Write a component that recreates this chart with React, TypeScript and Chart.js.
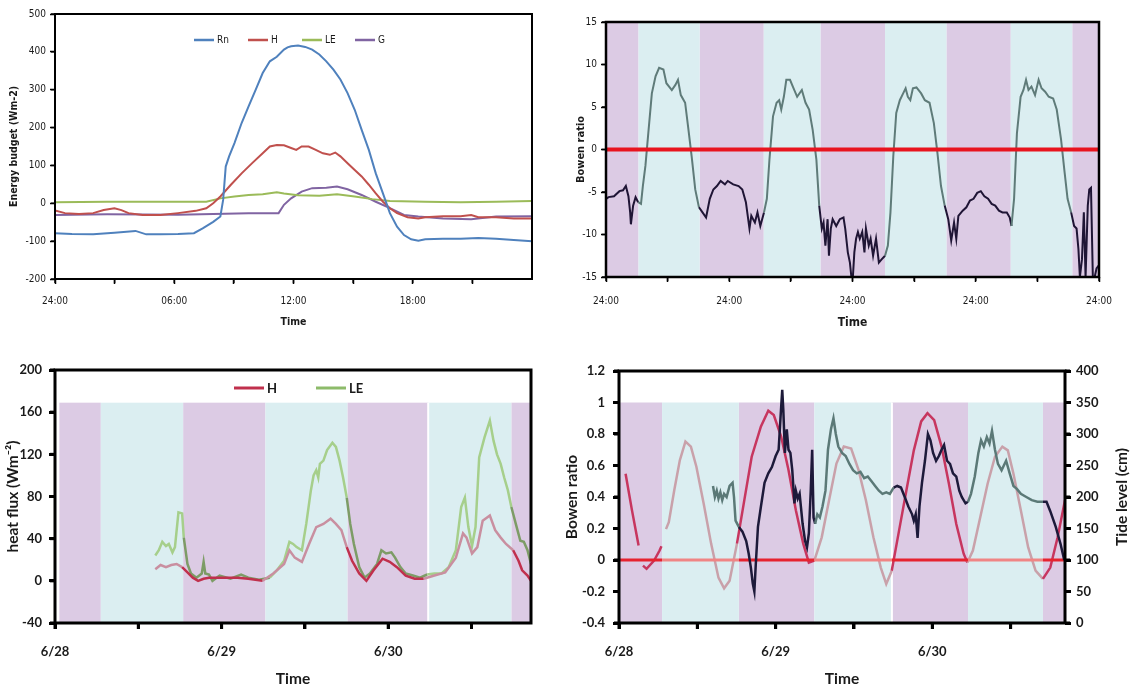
import React, { useEffect, useRef } from 'react';
import { Chart, registerables } from 'chart.js';

Chart.register(...registerables);

// ================= Panel 1: energy budget (x in hours) =================
const p1TickValues = [0, 3, 6, 9, 12, 15, 18, 21];
const p1TickLabels = ['24:00', '', '06:00', '', '12:00', '', '18:00', ''];
const p1YValues = [-200, -100, 0, 100, 200, 300, 400, 500];
const p1Rn = [[0,-79],[0.85,-81],[1.92,-82],[2.99,-78],[4.05,-73],[4.59,-82],[5.3,-82],[6.19,-81],[6.99,-79],[7.43,-66],[7.96,-49],[8.32,-35],[8.46,9],[8.59,97],[8.76,124],[9.03,159],[9.39,212],[9.74,256],[10.1,300],[10.45,344],[10.81,375],[11.16,387],[11.52,406],[11.7,412],[11.88,415],[12.23,417],[12.59,413],[12.94,406],[13.3,393],[13.65,375],[14.01,353],[14.36,327],[14.72,291],[15.08,247],[15.43,194],[15.79,141],[16.14,79],[16.5,26],[16.85,-26],[17.21,-62],[17.56,-84],[17.92,-95],[18.28,-99],[18.63,-95],[19.52,-94],[20.41,-94],[21.3,-92],[22.19,-94],[23.08,-97],[24,-100]];
const p1H = [[0,-19],[0.5,-26],[1.21,-28],[1.92,-26],[2.45,-18],[2.99,-13],[3.34,-18],[3.7,-26],[4.41,-31],[5.3,-31],[6.19,-26],[7.08,-20],[7.61,-13],[7.96,0],[8.32,18],[8.85,49],[9.39,79],[9.92,106],[10.45,132],[10.81,150],[11.16,154],[11.52,153],[11.88,146],[12.14,141],[12.41,150],[12.76,150],[13.12,141],[13.48,132],[13.83,128],[14.1,134],[14.36,124],[14.72,106],[15.08,88],[15.43,71],[15.79,49],[16.14,26],[16.5,4],[16.85,-13],[17.21,-26],[17.74,-37],[18.28,-40],[18.63,-37],[19.52,-34],[20.41,-34],[20.94,-31],[21.3,-37],[22.19,-37],[23.08,-40],[24,-40]];
const p1LE = [[0,3],[2.63,4],[6.19,4],[7.61,4],[8.32,13],[9.03,18],[9.74,22],[10.45,24],[11.16,29],[11.52,26],[12.23,21],[13.3,20],[14.19,24],[15.08,18],[15.96,11],[16.85,6],[18.63,4],[20.41,3],[22.19,4],[24,6]];
const p1G = [[0,-31],[2.63,-29],[6.19,-30],[7.96,-28],[9.74,-26],[11.25,-26],[11.52,-4],[11.88,13],[12.41,31],[12.94,40],[13.65,41],[14.19,44],[14.72,37],[15.43,22],[16.14,4],[16.85,-13],[17.56,-31],[18.28,-35],[19.52,-40],[20.94,-42],[22.19,-35],[24,-34]];

// ================= Panel 2: Bowen ratio over 4 days (x in days) =================
const p2TickValues = [0, 0.5, 1, 1.5, 2, 2.5, 3, 3.5, 4];
const p2TickLabels = ['24:00', '', '24:00', '', '24:00', '', '24:00', '', '24:00'];
const p2YValues = [-15, -10, -5, 0, 5, 10, 15];
const p2Night = [[0,0.264],[0.76,1.28],[1.74,2.264],[2.762,3.284],[3.783,4]];
const p2Day = [[0.264,0.76],[1.28,1.74],[2.264,2.762],[3.284,3.783]];
const p2Zero = [[0,0],[4,0]];
const p2Bowen = [[0,-5.8],[0.021,-5.6],[0.065,-5.5],[0.109,-4.9],[0.138,-4.8],[0.161,-4.3],[0.182,-5.5],[0.196,-7.4],[0.202,-8.8],[0.22,-6.6],[0.24,-5.6],[0.261,-6.2],[0.284,-6.4],[0.299,-4.3],[0.32,-1.9],[0.343,1.9],[0.372,6.6],[0.402,8.6],[0.431,9.6],[0.466,9.4],[0.49,7.8],[0.534,7.0],[0.563,7.6],[0.584,8.2],[0.607,6.4],[0.642,5.5],[0.666,2.7],[0.695,-0.8],[0.724,-4.7],[0.754,-6.8],[0.783,-7.4],[0.812,-8.0],[0.842,-5.8],[0.871,-4.7],[0.9,-4.3],[0.93,-3.7],[0.965,-4.1],[0.988,-3.7],[1.032,-4.1],[1.076,-4.3],[1.106,-4.7],[1.135,-6.2],[1.164,-9.3],[1.179,-7.8],[1.208,-8.6],[1.229,-7.4],[1.252,-9.0],[1.282,-7.4],[1.305,-5.8],[1.326,-1.2],[1.355,3.9],[1.384,5.5],[1.405,5.8],[1.422,4.7],[1.443,6.2],[1.463,8.2],[1.493,8.2],[1.516,7.4],[1.551,6.2],[1.589,7.0],[1.619,5.5],[1.648,4.7],[1.677,2.3],[1.707,-1.2],[1.73,-6.6],[1.751,-9.3],[1.765,-8.6],[1.78,-11.3],[1.798,-8.2],[1.809,-12.5],[1.824,-9.3],[1.839,-8.2],[1.868,-9.0],[1.897,-8.2],[1.927,-8.0],[1.941,-9.3],[1.962,-12.1],[1.979,-13.3],[1.991,-15],[2.003,-15],[2.015,-12.1],[2.029,-10.5],[2.044,-9.7],[2.059,-10.5],[2.079,-9.7],[2.097,-12.1],[2.109,-9.3],[2.132,-11.3],[2.147,-10.5],[2.167,-12.5],[2.191,-10.5],[2.214,-13.3],[2.238,-12.9],[2.264,-12.5],[2.287,-11.3],[2.308,-7.4],[2.331,-0.8],[2.355,4.3],[2.384,5.8],[2.411,6.6],[2.431,7.2],[2.449,6.2],[2.469,5.8],[2.49,7.2],[2.519,7.3],[2.557,6.6],[2.587,5.8],[2.625,5.5],[2.66,3.1],[2.689,-0.4],[2.718,-4.3],[2.748,-6.6],[2.777,-8.2],[2.801,-10.7],[2.824,-8.6],[2.842,-10.5],[2.859,-7.8],[2.894,-7.2],[2.924,-6.8],[2.953,-6.0],[2.982,-5.8],[3.012,-5.1],[3.041,-4.9],[3.07,-5.5],[3.1,-5.8],[3.129,-6.4],[3.158,-6.6],[3.188,-7.2],[3.217,-7.4],[3.252,-7.4],[3.276,-8.0],[3.29,-9.0],[3.311,-5.8],[3.334,1.9],[3.364,6.2],[3.387,7.0],[3.408,8.2],[3.428,7.0],[3.452,7.4],[3.481,6.4],[3.51,8.2],[3.534,7.2],[3.563,6.8],[3.592,6.2],[3.628,6.0],[3.657,4.7],[3.692,1.2],[3.721,-2.7],[3.745,-5.8],[3.774,-7.4],[3.798,-9.0],[3.818,-9.3],[3.833,-11.7],[3.845,-15],[3.862,-12.9],[3.877,-7.4],[3.891,-15],[3.909,-6.6],[3.921,-4.7],[3.935,-4.5],[3.95,-15],[3.965,-15],[3.98,-14.0],[4.0,-13.6]];

// ================= Panel 3: heat flux (x in days from 6/28) =================
const p3TickValues = [0, 0.5, 1, 1.5, 2, 2.5];
const p3TickLabels = ['6/28', '', '6/29', '', '6/30', ''];
const p3YValues = [-40, 0, 40, 80, 120, 160, 200];
const p3XMax = 2.857;
const p3BandTop = 169;
const p3Night = [[0.026,0.275],[0.769,1.263],[1.755,2.24],[2.739,2.857]];
const p3Day = [[0.275,0.769],[1.263,1.755],[2.24,2.739]];
const p3Separators = [2.24];
const p3LE = [[0.602,24],[0.623,29],[0.644,37],[0.666,33],[0.683,35],[0.705,27],[0.72,32],[0.741,65],[0.763,64],[0.773,41],[0.795,16],[0.816,7],[0.849,3],[0.881,7],[0.892,18],[0.902,7],[0.924,6],[0.945,0],[0.988,5],[1.053,2],[1.117,6],[1.16,3],[1.224,1],[1.289,3],[1.332,10],[1.375,19],[1.407,37],[1.429,35],[1.45,32],[1.482,29],[1.508,54],[1.536,86],[1.552,100],[1.568,105],[1.58,98],[1.59,111],[1.611,114],[1.633,124],[1.665,131],[1.686,127],[1.708,114],[1.729,98],[1.751,79],[1.772,54],[1.794,35],[1.826,13],[1.858,3],[1.89,7],[1.933,16],[1.959,29],[1.987,26],[2.019,27],[2.041,22],[2.073,13],[2.105,7],[2.148,5],[2.191,3],[2.234,6],[2.277,7],[2.32,7],[2.363,13],[2.406,29],[2.438,70],[2.46,79],[2.481,51],[2.503,33],[2.524,51],[2.546,117],[2.578,136],[2.61,152],[2.632,133],[2.653,120],[2.675,111],[2.696,98],[2.718,86],[2.739,70],[2.771,51],[2.793,38],[2.814,37],[2.836,29],[2.857,16]];
const p3H = [[0.602,11],[0.634,15],[0.666,13],[0.698,15],[0.73,16],[0.763,13],[0.795,8],[0.827,3],[0.859,0],[0.892,2],[0.924,3],[0.967,3],[1.031,3],[1.096,3],[1.16,2],[1.246,0],[1.31,7],[1.375,16],[1.407,29],[1.439,22],[1.482,18],[1.525,35],[1.568,51],[1.611,54],[1.654,59],[1.686,54],[1.719,48],[1.751,32],[1.783,19],[1.826,7],[1.869,0],[1.912,10],[1.966,21],[2.009,18],[2.052,13],[2.105,5],[2.159,2],[2.213,2],[2.277,5],[2.342,8],[2.406,22],[2.449,45],[2.47,41],[2.503,26],[2.535,32],[2.567,57],[2.61,62],[2.642,48],[2.675,41],[2.707,35],[2.75,29],[2.782,19],[2.804,10],[2.836,5],[2.857,0]];

// ================= Panel 4: Bowen ratio & tide (x in days from 6/28) =================
const p4TickValues = [0, 0.5, 1, 1.5, 2, 2.5];
const p4TickLabels = ['6/28', '', '6/29', '', '6/30', ''];
const p4YValues = [-0.4, -0.2, 0, 0.2, 0.4, 0.6, 0.8, 1, 1.2];
const p4YLabels = ['-0.4', '-0.2', '0', '0.2', '0.4', '0.6', '0.8', '1', '1.2'];
const p4TideValues = [0, 50, 100, 150, 200, 250, 300, 350, 400];
const p4XMax = 2.847;
const p4BandTop = 1;
const p4Night = [[0.007,0.275],[0.765,1.247],[1.742,2.228],[2.706,2.847]];
const p4Day = [[0.275,0.765],[1.247,1.742],[2.228,2.706]];
const p4Separators = [1.742];
const p4Zero = [[0,0],[0.007,0],[0.275,0],[0.765,0],[1.247,0],[1.742,0],[2.228,0],[2.706,0],[2.847,0]];
const p4Tide = [[0.042,237],[0.082,180],[0.125,123],[0.139,null],[0.153,91],[0.176,86],[0.224,99],[0.259,115],[0.271,122],[0.285,null],[0.3,149],[0.318,160],[0.353,211],[0.388,258],[0.424,288],[0.459,280],[0.494,248],[0.541,189],[0.588,126],[0.635,72],[0.671,55],[0.706,67],[0.753,126],[0.8,195],[0.847,264],[0.906,312],[0.953,337],[0.988,330],[1.035,296],[1.082,243],[1.129,179],[1.176,126],[1.212,96],[1.247,99],[1.294,136],[1.341,195],[1.388,253],[1.435,280],[1.482,277],[1.529,243],[1.576,195],[1.624,136],[1.671,88],[1.706,62],[1.741,83],[1.788,147],[1.835,211],[1.882,274],[1.929,320],[1.969,333],[2.012,322],[2.059,280],[2.106,221],[2.153,157],[2.2,110],[2.224,96],[2.259,115],[2.306,168],[2.353,221],[2.4,264],[2.447,280],[2.482,274],[2.518,237],[2.565,179],[2.612,120],[2.659,83],[2.706,70],[2.753,88],[2.8,136],[2.847,195]];
const p4Bowen = [[0.6,0.47],[0.612,0.40],[0.624,0.44],[0.635,0.39],[0.647,0.43],[0.659,0.38],[0.671,0.42],[0.687,0.40],[0.706,0.47],[0.725,0.49],[0.734,0.40],[0.744,0.25],[0.765,0.21],[0.788,0.18],[0.812,0.12],[0.828,0.04],[0.842,-0.05],[0.854,-0.15],[0.864,-0.20],[0.873,-0.03],[0.887,0.21],[0.906,0.34],[0.929,0.49],[0.953,0.55],[0.976,0.59],[1.0,0.66],[1.019,0.70],[1.035,0.97],[1.042,1.08],[1.049,0.95],[1.059,0.68],[1.071,0.83],[1.082,0.70],[1.094,0.68],[1.106,0.57],[1.12,0.36],[1.129,0.44],[1.141,0.39],[1.153,0.42],[1.172,0.23],[1.188,0.12],[1.2,0.08],[1.212,0.17],[1.224,0.44],[1.233,0.70],[1.242,0.27],[1.252,0.23],[1.266,0.29],[1.282,0.27],[1.299,0.34],[1.318,0.44],[1.334,0.70],[1.353,0.83],[1.369,0.90],[1.384,0.80],[1.4,0.72],[1.424,0.68],[1.447,0.66],[1.471,0.61],[1.494,0.57],[1.518,0.55],[1.541,0.56],[1.565,0.52],[1.588,0.53],[1.612,0.50],[1.635,0.47],[1.659,0.44],[1.682,0.42],[1.706,0.43],[1.729,0.42],[1.753,0.46],[1.776,0.47],[1.8,0.46],[1.824,0.40],[1.847,0.34],[1.871,0.29],[1.882,0.25],[1.894,0.29],[1.906,0.14],[1.918,0.34],[1.934,0.49],[1.953,0.63],[1.972,0.80],[1.988,0.76],[2.005,0.68],[2.024,0.63],[2.042,0.66],[2.059,0.70],[2.075,0.73],[2.094,0.63],[2.113,0.61],[2.132,0.55],[2.153,0.53],[2.172,0.44],[2.188,0.40],[2.212,0.36],[2.228,0.37],[2.247,0.42],[2.271,0.53],[2.294,0.68],[2.311,0.76],[2.329,0.72],[2.348,0.78],[2.365,0.74],[2.381,0.82],[2.4,0.70],[2.419,0.61],[2.442,0.57],[2.471,0.63],[2.494,0.55],[2.518,0.47],[2.541,0.45],[2.565,0.42],[2.6,0.40],[2.635,0.38],[2.671,0.37],[2.706,0.37],[2.729,0.37],[2.753,0.31],[2.788,0.21],[2.819,0.10],[2.842,0.0]];

// ================= styling helpers =================
const TEXT = '#1a1a1a';
const NARROW = "'DejaVu Sans Condensed', 'Liberation Sans Narrow', sans-serif";
const BOLDF = "Lato, 'Open Sans', sans-serif";
const PURPLE = '#dccbe4';
const CYAN = '#dbeef1';

const pts = (arr: any[]) => arr.map(([x, y]) => ({ x, y }));
const inBands = (x: number, bands: number[][]) => bands.some(([a, b]) => x >= a && x < b);
const segColor = (bands: number[][], night: string, day: string) => (ctx: any) =>
  inBands((ctx.p0.parsed.x + ctx.p1.parsed.x) / 2, bands) ? night : day;

function line(label: string, data: any[], color: string, width: number, extra: any = {}) {
  return {
    label, data: pts(data), borderColor: color, backgroundColor: color, borderWidth: width,
    pointRadius: 0, fill: false, tension: 0, spanGaps: false, ...extra,
  };
}

function xAxis(o: any) {
  return {
    type: 'linear', position: 'bottom', min: o.min, max: o.max,
    afterBuildTicks: (s: any) => { s.ticks = o.values.map((v: number) => ({ value: v })); },
    afterFit: (s: any) => { s.height = o.height; },
    grid: { display: true, drawOnChartArea: false, drawTicks: true, tickLength: o.tl, tickWidth: o.tw, tickColor: '#000', color: '#000' },
    border: { display: false },
    ticks: { autoSkip: false, maxRotation: 0, minRotation: 0, padding: o.pad, font: o.font, color: TEXT,
      callback: (_v: any, i: number) => o.labels[i] },
    title: { display: true, text: o.title, font: o.titleFont, color: TEXT, padding: o.titlePad },
  };
}

function yAxis(o: any) {
  return {
    type: 'linear', position: o.position || 'left', min: o.min, max: o.max,
    afterBuildTicks: (s: any) => { s.ticks = o.values.map((v: number) => ({ value: v })); },
    afterFit: (s: any) => { s.width = o.width; },
    grid: { display: true, drawOnChartArea: false, drawTicks: true, tickLength: o.tl, tickWidth: o.tw, tickColor: '#000', color: '#000' },
    border: { display: false },
    ticks: { autoSkip: false, padding: o.pad, font: o.font, color: TEXT,
      callback: (_v: any, i: number) => o.labels[i] },
    title: { display: !!o.title, text: o.title || '', font: o.titleFont, color: TEXT, padding: o.titlePad },
  };
}

// frame around the plot area plus outward tick marks taken from each scale's ticks
function framePlugin(lw: number, marks: any[]) {
  return {
    id: 'frame',
    afterDatasetsDraw(chart: any) {
      const { ctx, chartArea: a, scales } = chart;
      ctx.save();
      ctx.strokeStyle = '#000';
      marks.forEach((m) => {
        const s = scales[m.axis];
        ctx.lineWidth = m.width;
        s.ticks.forEach((t: any) => {
          const p = s.getPixelForValue(t.value);
          ctx.beginPath();
          if (m.side === 'bottom') { ctx.moveTo(p, a.bottom); ctx.lineTo(p, a.bottom + m.len); }
          else if (m.side === 'left') { ctx.moveTo(a.left, p); ctx.lineTo(a.left - m.len, p); }
          else { ctx.moveTo(a.right, p); ctx.lineTo(a.right + m.len, p); }
          ctx.stroke();
        });
      });
      ctx.lineWidth = lw;
      ctx.strokeRect(a.left, a.top, a.right - a.left, a.bottom - a.top);
      ctx.restore();
    },
  };
}

function bandsPlugin(cfg: any) {
  return {
    id: 'bands',
    beforeDatasetsDraw(chart: any) {
      const { ctx, chartArea: a, scales } = chart;
      const xs = scales.x;
      const ys = scales.y;
      const top = cfg.top == null ? a.top : ys.getPixelForValue(cfg.top);
      ctx.save();
      ctx.beginPath();
      ctx.rect(a.left, a.top, a.right - a.left, a.bottom - a.top);
      ctx.clip();
      const fill = (bands: number[][], color: string) => {
        ctx.fillStyle = color;
        bands.forEach(([b0, b1]) => {
          const x0 = xs.getPixelForValue(b0);
          const x1 = xs.getPixelForValue(b1);
          ctx.fillRect(x0, top, x1 - x0, a.bottom - top);
        });
      };
      fill(cfg.night, PURPLE);
      fill(cfg.day, CYAN);
      (cfg.separators || []).forEach((v: number) => {
        const x = xs.getPixelForValue(v);
        ctx.fillStyle = '#ffffff';
        ctx.fillRect(x - 1, top, 2, a.bottom - top);
      });
      ctx.restore();
    },
  };
}

function legendPlugin(cfg: any) {
  return {
    id: 'lineLegend',
    afterDraw(chart: any) {
      const ctx = chart.ctx;
      ctx.save();
      ctx.font = cfg.font;
      ctx.textBaseline = 'middle';
      ctx.textAlign = 'left';
      cfg.items.forEach((it: any) => {
        const ds = chart.data.datasets[it.dataset];
        ctx.strokeStyle = it.color || ds.borderColor;
        ctx.lineWidth = cfg.lineWidth;
        ctx.beginPath();
        ctx.moveTo(it.x, cfg.y);
        ctx.lineTo(it.x + cfg.lineLen, cfg.y);
        ctx.stroke();
        ctx.fillStyle = TEXT;
        ctx.fillText(ds.label, it.x + cfg.lineLen + cfg.gap, cfg.y + 0.5);
      });
      ctx.restore();
    },
  };
}

function rightTitlePlugin(text: string, font: string, x: number) {
  return {
    id: 'rightTitle',
    afterDraw(chart: any) {
      const { ctx, chartArea: a } = chart;
      ctx.save();
      ctx.translate(x, (a.top + a.bottom) / 2);
      ctx.rotate(-Math.PI / 2);
      ctx.font = font;
      ctx.fillStyle = TEXT;
      ctx.textAlign = 'center';
      ctx.textBaseline = 'middle';
      ctx.fillText(text, 0, 0);
      ctx.restore();
    },
  };
}

function base(padding: any, scales: any) {
  return {
    responsive: false, animation: false, events: [],
    layout: { padding },
    plugins: { legend: { display: false }, tooltip: { enabled: false } },
    scales,
  };
}

const smallFont = { family: NARROW, size: 10 };
const smallBold = { family: NARROW, size: 10.5, weight: 'bold' };
const bigTick = { family: BOLDF, size: 13, weight: 'bold' };
const bigTitle = { family: BOLDF, size: 15.5, weight: 'bold' };

function config1(): any {
  return {
    type: 'line',
    data: { datasets: [
      line('Rn', p1Rn, '#4f81bd', 2),
      line('H', p1H, '#c0504d', 2),
      line('LE', p1LE, '#9bbb59', 2),
      line('G', p1G, '#8064a2', 2),
    ] },
    options: base({ left: 4, top: 14, right: 28, bottom: 12 }, {
      x: xAxis({ min: 0, max: 24, values: p1TickValues, labels: p1TickLabels, height: 54, tl: 5, tw: 1.5, pad: 11,
        font: smallFont, title: 'Time', titleFont: smallBold, titlePad: 4 }),
      y: yAxis({ min: -200, max: 500, values: p1YValues, labels: p1YValues.map(String), width: 51, tl: 5, tw: 1.5, pad: 4,
        font: smallFont, title: 'Energy budget (Wm-2)', titleFont: smallBold, titlePad: 4 }),
    }),
    plugins: [framePlugin(2, [{ axis: 'x', side: 'bottom', len: 4, width: 1.5 }, { axis: 'y', side: 'left', len: 4, width: 1.5 }]),
      legendPlugin({ y: 40, lineLen: 20, gap: 3, lineWidth: 2.5,
      font: `10px ${NARROW}`,
      items: [{ dataset: 0, x: 194 }, { dataset: 1, x: 248 }, { dataset: 2, x: 302 }, { dataset: 3, x: 355 }] })],
  };
}

function config2(): any {
  return {
    type: 'line',
    data: { datasets: [
      line('zero', p2Zero, '#e8141e', 4, { order: 0 }),
      line('Bowen ratio', p2Bowen, '#1f1535', 2, { order: 1,
        segment: { borderColor: segColor(p2Night, '#1f1535', '#5f7b79') } }),
    ] },
    options: base({ left: 6, top: 22, right: 37, bottom: 11 }, {
      x: xAxis({ min: 0, max: 4, values: p2TickValues, labels: p2TickLabels, height: 57, tl: 5, tw: 1.5, pad: 13,
        font: smallFont, title: 'Time', titleFont: { family: NARROW, size: 12, weight: 'bold' }, titlePad: 4 }),
      y: yAxis({ min: -15, max: 15, values: p2YValues, labels: p2YValues.map(String), width: 35, tl: 5, tw: 1.5, pad: 4,
        font: smallFont, title: 'Bowen ratio', titleFont: { family: NARROW, size: 11, weight: 'bold' }, titlePad: 4 }),
    }),
    plugins: [bandsPlugin({ night: p2Night, day: p2Day, top: null }),
      framePlugin(2.5, [{ axis: 'x', side: 'bottom', len: 4, width: 1.5 }, { axis: 'y', side: 'left', len: 4, width: 1.5 }])],
  };
}

function config3(): any {
  return {
    type: 'line',
    data: { datasets: [
      line('H', p3H, '#c0304d', 2.5, { order: 0,
        segment: { borderColor: segColor(p3Night, '#c0304d', '#c98fa0') } }),
      line('LE', p3LE, '#a6cf8b', 2.5, { order: 1,
        segment: { borderColor: segColor(p3Night, '#7d9c66', '#a6cf8b') } }),
    ] },
    options: base({ left: 4, top: 25, right: 29, bottom: 3 }, {
      x: xAxis({ min: 0, max: p3XMax, values: p3TickValues, labels: p3TickLabels, height: 65, tl: 6, tw: 3, pad: 15,
        font: bigTick, title: 'Time', titleFont: bigTitle, titlePad: 0 }),
      y: yAxis({ min: -40, max: 200, values: p3YValues, labels: p3YValues.map(String), width: 51, tl: 6, tw: 3, pad: 7,
        font: bigTick, title: 'heat flux (Wm\u207B\u00B2)', titleFont: bigTitle, titlePad: 0 }),
    }),
    plugins: [bandsPlugin({ night: p3Night, day: p3Day, top: p3BandTop, separators: p3Separators }),
      framePlugin(3, [{ axis: 'x', side: 'bottom', len: 6, width: 3 }, { axis: 'y', side: 'left', len: 5, width: 3 }]),
      legendPlugin({ y: 43, lineLen: 30, gap: 3, lineWidth: 3, font: `bold 13px ${BOLDF}`,
        items: [{ dataset: 0, x: 234, color: '#c0304d' }, { dataset: 1, x: 316, color: '#8dbb6a' }] })],
  };
}

function config4(): any {
  return {
    type: 'line',
    data: { datasets: [
      line('Bowen ratio', p4Bowen, '#1d1a3a', 2.5, { order: 0, yAxisID: 'y',
        segment: { borderColor: segColor(p4Night, '#1d1a3a', '#5b7977') } }),
      line('zero', p4Zero, '#e8323c', 3, { order: 1, yAxisID: 'y',
        segment: { borderColor: segColor(p4Night, '#e6232f', '#f08585') } }),
      line('Tide level', p4Tide, '#c7365f', 2.5, { order: 2, yAxisID: 'y1',
        segment: { borderColor: segColor(p4Night, '#c7365f', '#c9a1aa') } }),
    ] },
    options: base({ left: 3, top: 26, right: 5, bottom: 3 }, {
      x: xAxis({ min: 0, max: p4XMax, values: p4TickValues, labels: p4TickLabels, height: 65, tl: 6, tw: 3, pad: 15,
        font: bigTick, title: 'Time', titleFont: bigTitle, titlePad: 0 }),
      y: yAxis({ min: -0.4, max: 1.2, values: p4YValues, labels: p4YLabels, width: 56, tl: 6, tw: 3, pad: 8,
        font: bigTick, title: 'Bowen ratio', titleFont: bigTitle, titlePad: 0 }),
      y1: yAxis({ position: 'right', min: 0, max: 400, values: p4TideValues, labels: p4TideValues.map(String), width: 66,
        tl: 6, tw: 3, pad: 5, font: bigTick }),
    }),
    plugins: [bandsPlugin({ night: p4Night, day: p4Day, top: p4BandTop, separators: p4Separators }),
      framePlugin(3, [{ axis: 'x', side: 'bottom', len: 6, width: 3 }, { axis: 'y', side: 'left', len: 5, width: 3 },
        { axis: 'y1', side: 'right', len: 5, width: 3 }]),
      rightTitlePlugin('Tide level (cm)', `bold 15.5px ${BOLDF}`, 562)],
  };
}

function Panel({ left, top, width, height, make }: any) {
  const ref = useRef<HTMLCanvasElement>(null);
  useEffect(() => {
    const chart = new Chart(ref.current as HTMLCanvasElement, make());
    return () => chart.destroy();
  }, []);
  return (
    <canvas ref={ref} width={width} height={height}
      style={{ position: 'absolute', left, top, width, height, display: 'block' }} />
  );
}

export default function App() {
  return (
    <div style={{ position: 'absolute', left: 0, top: 0, width: 1136, height: 691, background: '#fff', overflow: 'hidden' }}>
      <Panel left={0} top={0} width={560} height={345} make={config1} />
      <Panel left={565} top={0} width={571} height={345} make={config2} />
      <Panel left={0} top={345} width={560} height={346} make={config3} />
      <Panel left={560} top={345} width={576} height={346} make={config4} />
    </div>
  );
}
